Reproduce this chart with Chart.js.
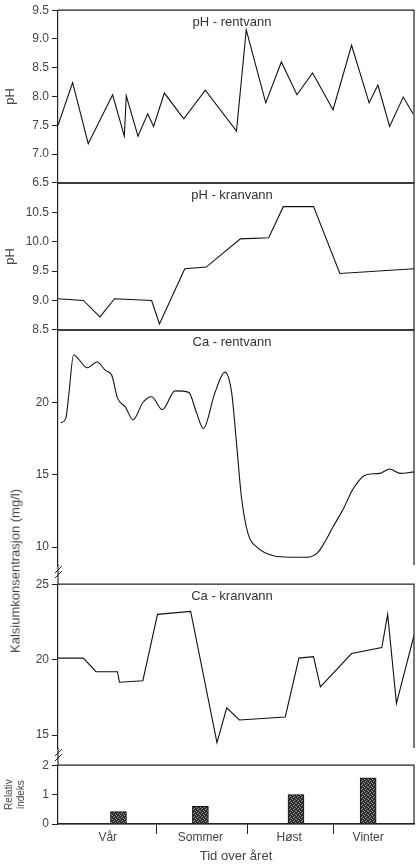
<!DOCTYPE html>
<html>
<head>
<meta charset="utf-8">
<script src="https://cdn.jsdelivr.net/npm/chart.js@4.4.1/dist/chart.umd.min.js"></script>
<style>
  html, body { margin: 0; padding: 0; background: #fff; }
  #wrap { position: relative; width: 416px; height: 866px; overflow: hidden; background: #fff; }
  #wrap canvas { position: absolute; left: 0; }
  #caTitle {
    position: absolute; left: 15px; top: 571px;
    transform: translate(-50%, -50%) rotate(-90deg);
    white-space: nowrap; font: 13px "Liberation Sans", Arial, sans-serif; color: #444;
  }
</style>
</head>
<body>
<div id="wrap">
  <canvas id="c1" width="416" height="193" style="top:0px"></canvas>
  <canvas id="c2" width="416" height="167" style="top:173px"></canvas>
  <canvas id="c3" width="416" height="265" style="top:320px"></canvas>
  <canvas id="c4" width="416" height="191" style="top:574px"></canvas>
  <canvas id="c5" width="416" height="111" style="top:755px"></canvas>
  <div id="caTitle">Kalsiumkonsentrasjon (mg/l)</div>
</div>
<script>
// x = dag i året (0-365)
const phRentDays = [0, 15, 31, 56, 68, 70, 82, 92, 98, 109, 129, 151, 183, 193, 213, 229, 245, 261, 282, 301, 319, 328, 340, 354, 364];
const phRent     = [7.50, 8.24, 7.18, 8.03, 7.31, 8.01, 7.31, 7.70, 7.48, 8.06, 7.61, 8.11, 7.40, 9.16, 7.89, 8.60, 8.03, 8.41, 7.77, 8.89, 7.89, 8.20, 7.48, 7.99, 7.70];

const phKranDays = [0, 26, 43, 58, 96, 104, 130, 152, 187, 216, 231, 262, 289, 365];
const phKran     = [9.03, 9.00, 8.72, 9.03, 9.00, 8.60, 9.54, 9.57, 10.05, 10.07, 10.60, 10.60, 9.46, 9.54];

const caRentDays = [3, 8, 11, 16, 21, 30, 40, 49, 55, 61, 69, 77, 87, 96, 107, 120, 134, 142, 149, 161, 171, 178, 183, 188, 195, 204, 221, 238, 255, 266, 274, 282, 293, 301, 308, 313, 320, 330, 340, 351, 365];
const caRent     = [18.6, 18.9, 20.5, 23.3, 23.0, 22.4, 22.8, 22.2, 21.9, 20.3, 19.7, 18.8, 20.0, 20.4, 19.5, 20.8, 20.7, 19.3, 18.2, 20.7, 22.1, 20.7, 17.2, 13.5, 10.9, 10.0, 9.4, 9.3, 9.3, 9.6, 10.4, 11.4, 12.7, 13.85, 14.55, 14.9, 15.05, 15.1, 15.4, 15.1, 15.2];

const caKranDays = [0, 26, 39, 61, 63, 87, 102, 136, 163, 173, 186, 233, 247, 262, 269, 301, 332, 338, 347, 365];
const caKran     = [20.1, 20.1, 19.2, 19.2, 18.5, 18.6, 23.0, 23.2, 14.5, 16.8, 16.0, 16.2, 20.1, 20.2, 18.2, 20.4, 20.8, 23.0, 17.1, 21.6];

const seasons     = ['Vår', 'Sommer', 'Høst', 'Vinter'];
const seasonMid   = [51, 146, 237, 318];
const seasonEdges = [101, 194, 282];
const indexDays   = [62, 146, 244, 318];
const indexValues = [0.42, 0.6, 1.0, 1.57];

const phTicks1 = [6.5, 7, 7.5, 8, 8.5, 9, 9.5];
const phTicks2 = [8.5, 9, 9.5, 10, 10.5];
const caTicks1 = [10, 15, 20];
const caTicks2 = [15, 20, 25];
const indexTicks = [0, 1, 2];

Chart.defaults.font.family = '"Liberation Sans", Arial, sans-serif';
Chart.defaults.color = '#444';

// ramme, paneltittel og brudd-merker på y-aksen
const panelPlugin = {
  id: 'panel',
  afterDraw(chart, args, opts) {
    const ctx = chart.ctx, a = chart.chartArea;
    ctx.save();
    ctx.strokeStyle = '#222';
    ctx.lineWidth = 1.2;
    ctx.beginPath();
    ctx.moveTo(a.left, a.top);
    ctx.lineTo(a.right, a.top);
    ctx.lineTo(a.right, a.bottom);
    if (opts.bottom) ctx.lineTo(a.left, a.bottom);
    ctx.stroke();
    if (opts.brk) {
      ctx.beginPath();
      ctx.moveTo(a.left, a.bottom);
      ctx.lineTo(a.left, chart.height);
      ctx.stroke();
      ctx.lineWidth = 1;
      [0, 5].forEach(d => {
        ctx.beginPath();
        ctx.moveTo(a.left - 3, a.bottom + 8 + d);
        ctx.lineTo(a.left + 4, a.bottom + 1 + d);
        ctx.stroke();
      });
    }
    if (opts.title) {
      ctx.fillStyle = '#333';
      ctx.font = '13px "Liberation Sans", Arial, sans-serif';
      ctx.textAlign = 'center';
      ctx.textBaseline = 'middle';
      ctx.fillText(opts.title, (a.left + a.right) / 2 - 4, a.top + 12);
    }
    ctx.restore();
  }
};

function yScale(min, max, ticks, fmt, title, titleSize) {
  return {
    min: min, max: max,
    afterFit: s => { s.width = 58; },
    afterBuildTicks: s => { s.ticks = ticks.map(v => ({ value: v })); },
    ticks: { callback: fmt, font: { size: 12 }, padding: 3, color: '#444' },
    grid: { drawOnChartArea: false, tickLength: 6, color: '#222' },
    border: { color: '#222', width: 1.2 },
    title: title ? { display: true, text: title, font: { size: titleSize || 13 }, color: '#444', padding: { top: 3, bottom: 0 } } : { display: false }
  };
}

function lineChart(id, days, values, y, p) {
  return new Chart(document.getElementById(id), {
    type: 'line',
    data: {
      datasets: [{
        data: days.map((d, i) => ({ x: d, y: values[i] })),
        borderColor: '#111',
        borderWidth: 1.1,
        pointRadius: 0,
        tension: p.smooth ? 0.4 : 0,
        cubicInterpolationMode: p.smooth ? 'monotone' : 'default'
      }]
    },
    options: {
      responsive: false,
      animation: false,
      layout: { padding: { top: 10, right: 2, bottom: p.padBottom, left: 0 } },
      plugins: {
        legend: { display: false },
        tooltip: { enabled: false },
        panel: { title: p.title, bottom: p.bottom, brk: p.brk }
      },
      scales: {
        x: { type: 'linear', min: 0, max: 365, display: false },
        y: y
      }
    },
    plugins: [panelPlugin]
  });
}

const fmt1 = v => v.toFixed(1);
const fmt0 = v => String(v);

lineChart('c1', phRentDays, phRent, yScale(6.5, 9.5, phTicks1, fmt1, 'pH'),
  { title: 'pH - rentvann', bottom: true, padBottom: 10 });
lineChart('c2', phKranDays, phKran, yScale(8.5, 11.0, phTicks2, fmt1, 'pH'),
  { title: 'pH - kranvann', bottom: true, padBottom: 10 });
lineChart('c3', caRentDays, caRent, yScale(8.76, 25, caTicks1, fmt0),
  { title: 'Ca - rentvann', bottom: false, brk: true, padBottom: 20, smooth: true });
lineChart('c4', caKranDays, caKran, yScale(14.14, 25, caTicks2, fmt0),
  { title: 'Ca - kranvann', bottom: false, brk: true, padBottom: 17 });

function stipple() {
  const c = document.createElement('canvas');
  c.width = 4; c.height = 4;
  const g = c.getContext('2d');
  g.fillStyle = '#2b2b2b';
  g.fillRect(0, 0, 4, 4);
  g.fillStyle = '#9a9a9a';
  [[0, 0], [2, 1], [1, 2], [3, 3]].forEach(pt => g.fillRect(pt[0], pt[1], 1, 1));
  return g.createPattern(c, 'repeat');
}

new Chart(document.getElementById('c5'), {
  type: 'bar',
  data: {
    datasets: [{
      data: indexDays.map((d, i) => ({ x: d, y: indexValues[i] })),
      backgroundColor: stipple(),
      borderColor: '#111',
      borderWidth: 1,
      barThickness: 16
    }]
  },
  options: {
    responsive: false,
    animation: false,
    layout: { padding: { top: 10, right: 2, bottom: 0, left: 0 } },
    plugins: { legend: { display: false }, tooltip: { enabled: false }, panel: { bottom: true } },
    scales: {
      x: {
        type: 'linear', min: 0, max: 365, offset: false,
        afterFit: s => { s.height = 42; },
        afterBuildTicks: s => {
          s.ticks = seasonEdges.concat(seasonMid).sort((a, b) => a - b).map(v => ({ value: v }));
        },
        ticks: {
          autoSkip: false, maxRotation: 0, padding: -4, font: { size: 12 }, color: '#444',
          callback: v => { const i = seasonMid.indexOf(v); return i >= 0 ? seasons[i] : ''; }
        },
        grid: {
          offset: false, drawOnChartArea: false, tickLength: 10,
          color: c => (c.tick && seasonEdges.includes(c.tick.value)) ? '#222' : 'rgba(0,0,0,0)'
        },
        border: { color: '#222', width: 1.2 },
        title: { display: true, text: 'Tid over året', font: { size: 13 }, color: '#444', padding: { top: 0, bottom: 2 } }
      },
      y: yScale(0, 2, indexTicks, fmt0, ['Relativ', 'indeks'], 10)
    }
  },
  plugins: [panelPlugin]
});
</script>
</body>
</html>
